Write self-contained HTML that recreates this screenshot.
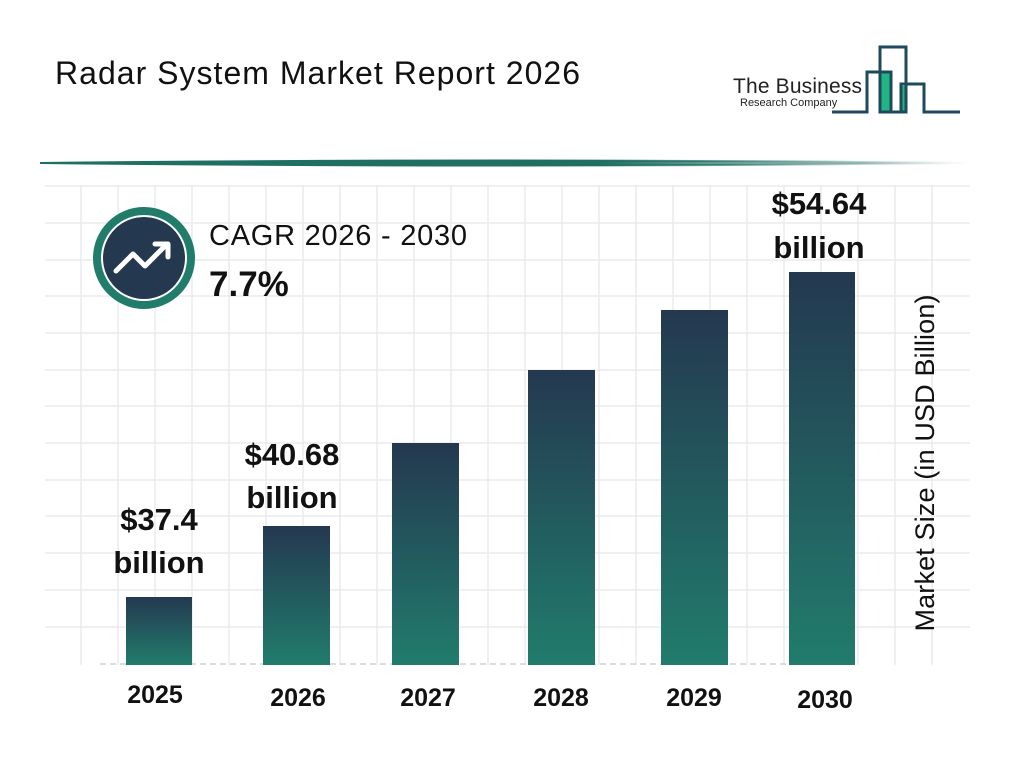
<!DOCTYPE html>
<html><head><meta charset="utf-8"><style>
body{margin:0;width:1024px;height:768px;background:#fff;overflow:hidden;font-family:"Liberation Sans",sans-serif}
</style></head><body>
<svg width="1024" height="768" xmlns="http://www.w3.org/2000/svg" style="position:absolute;left:0;top:0">
<defs>
<linearGradient id="bar" x1="0" y1="0" x2="0" y2="1"><stop offset="0" stop-color="#243850"/><stop offset="1" stop-color="#217c6c"/></linearGradient>
<linearGradient id="sep" x1="0" y1="0" x2="1" y2="0"><stop offset="0" stop-color="#1f6f62"/><stop offset="0.6" stop-color="#1f6f62"/><stop offset="1" stop-color="#1f6f62" stop-opacity="0"/></linearGradient>
</defs>
<text x="55" y="84" font-size="32" fill="#111" textLength="525">Radar System Market Report 2026</text>
<rect x="881" y="72" width="10" height="40" fill="#1fb584"/><rect x="902" y="86" width="4" height="26" fill="#1fb584"/>
<g fill="none" stroke="#1e4a5a" stroke-width="3">
<path d="M832 112 H867 V72 H891 V112"/><rect x="880" y="47" width="26" height="65"/><path d="M901 112 V84 H924 V112 H960"/>
</g>
<text x="733" y="93" font-size="21" fill="#222" textLength="129">The Business</text>
<text x="740" y="106" font-size="11" fill="#222">Research Company</text>
<path d="M40 163 Q500 158 970 163 Q500 168 40 163Z" fill="url(#sep)" stroke="url(#sep)" stroke-width="2"/>
<g stroke="#e6e8ec" stroke-width="1.3">
<path d="M45 186H970M45 223H970M45 260H970M45 296H970M45 333H970M45 370H970M45 406H970M45 443H970M45 480H970M45 516H970M45 553H970M45 590H970M45 627H970"/>
<path d="M81 185V665M118 185V665M155 185V665M192 185V665M229 185V665M266 185V665M303 185V665M340 185V665M377 185V665M414 185V665M451 185V665M488 185V665M525 185V665M562 185V665M599 185V665M636 185V665M673 185V665M710 185V665M747 185V665M784 185V665M821 185V665M858 185V665M895 185V665M932 185V665"/>
</g>
<line x1="100" y1="664" x2="790" y2="664" stroke="#cdd2d8" stroke-width="1.5" stroke-dasharray="6,4"/>
<circle cx="144" cy="258" r="47" fill="#fff" stroke="#217c6c" stroke-width="8"/>
<circle cx="144" cy="258" r="41" fill="#243850"/>
<path d="M116 271 L133 254 L145 266 L166 245" fill="none" stroke="#fff" stroke-width="5" stroke-linecap="round" stroke-linejoin="round"/>
<path d="M155 244 H168 V257" fill="none" stroke="#fff" stroke-width="5" stroke-linecap="round" stroke-linejoin="round"/>
<text x="209" y="245" font-size="29" fill="#111" textLength="258">CAGR 2026 - 2030</text>
<text x="209" y="296" font-size="35" font-weight="bold" fill="#111">7.7%</text>
<g font-size="31" font-weight="bold" fill="#111" text-anchor="middle">
<text x="159" y="530">$37.4</text><text x="159" y="573">billion</text>
<text x="292" y="465">$40.68</text><text x="292" y="508">billion</text>
<text x="819" y="214">$54.64</text><text x="819" y="258">billion</text>
</g>
<g fill="url(#bar)">
<rect x="126" y="597" width="66" height="68"/><rect x="263" y="526" width="67" height="139"/>
<rect x="392" y="443" width="67" height="222"/><rect x="528" y="370" width="67" height="295"/>
<rect x="661" y="310" width="67" height="355"/><rect x="789" y="272" width="66" height="393"/>
</g>
<g font-size="25" font-weight="bold" fill="#111" text-anchor="middle">
<text x="155" y="703">2025</text><text x="298" y="706">2026</text><text x="428" y="706">2027</text>
<text x="561" y="706">2028</text><text x="694" y="706">2029</text><text x="825" y="708">2030</text>
</g>
<text transform="translate(934,463) rotate(-90)" font-size="27" fill="#111" text-anchor="middle" textLength="337">Market Size (in USD Billion)</text>
</svg>
</body></html>
